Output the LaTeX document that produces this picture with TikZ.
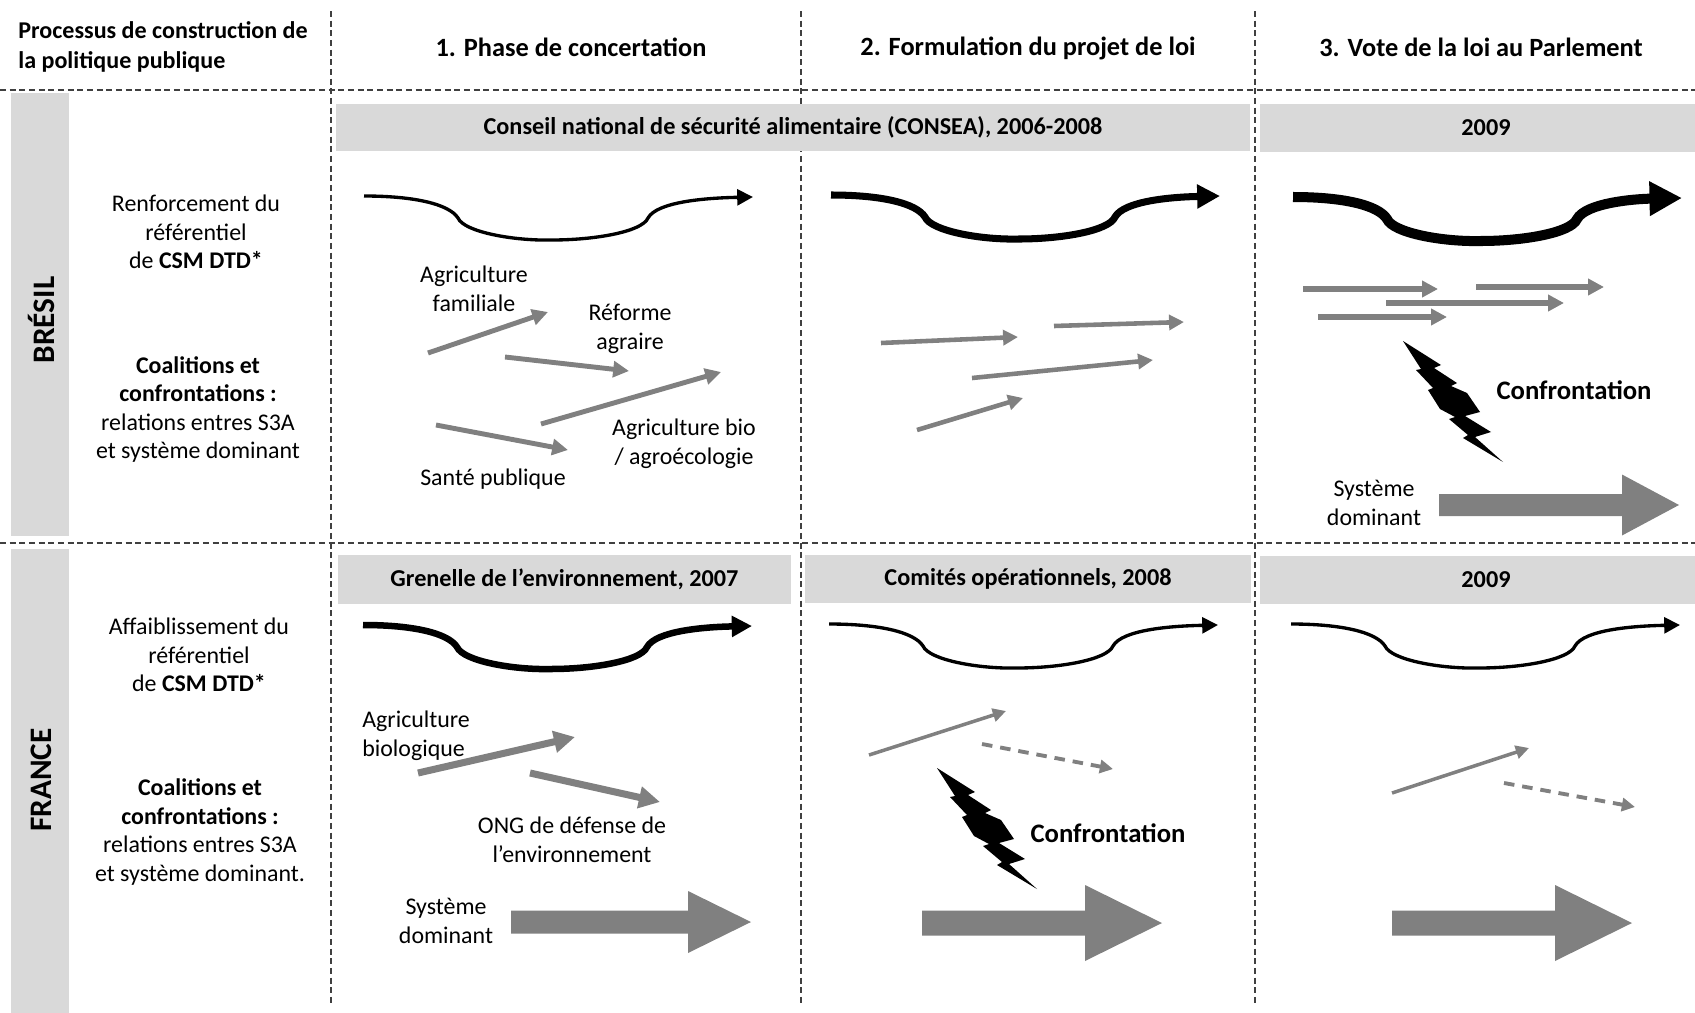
\documentclass[tikz,border=0pt]{standalone}
\usepackage{fontspec}
\setmainfont{Carlito}
\usetikzlibrary{arrows.meta}

\begin{document}
\begin{tikzpicture}
	 [x=0.2mm,y=-0.2mm,every node/.style={inner sep=0pt,align=center,font=\fontsize{13.6}{16.3}\selectfont},
	  phase/.style={font=\fontsize{15}{18}\selectfont\bfseries},
	  bar/.style={fill=black!15,font=\fontsize{13.8}{16}\selectfont\bfseries},
	  country/.style={rotate=90,font=\fontsize{17.8}{20}\selectfont\bfseries},
	  clash/.style={font=\fontsize{15.2}{18}\selectfont\bfseries},
	  grid/.style={black!75,line width=0.7pt,dash pattern=on 3.5pt off 2pt},
	  flow/.style 2 args={gray,line width=#1,-{Triangle[length=#2,width=#2]}},
	  wave/.style 2 args={line width=#1,-{Triangle[length=#2,width=#2]}}]
	\useasboundingbox (0,0) rectangle (1695,1013);

	\fill[black!15] (11,93) rectangle (69,536);
	\fill[black!15] (11,549) rectangle (69,1013);
	\foreach \y in {90,543}
    \draw[grid] (0,\y) -- (1695,\y);
	\foreach \x in {331,801,1255}
    \draw[grid] (\x,11) -- (\x,1003);

	\node (proc)[anchor=west,align=left,font=\fontsize{13.7}{16.8}\selectfont\bfseries] at (18,47) {Processus de construction de\\la politique publique};
	\node (ph1)[phase] at (571,47) {1. Phase de concertation};
	\node (ph2)[phase] at (1028,48) {2. Formulation du projet de loi};
	\node (ph3)[phase] at (1481,47) {3. Vote de la loi au Parlement};

	\node (br)[country] at (41,320) {BRÉSIL};
	\node (fr)[country] at (41,780) {FRANCE};

	\node (consea)[bar,minimum width=182.8mm,minimum height=9.4mm] at (793,127) {Conseil national de sécurité alimentaire (CONSEA), 2006-2008};
	\node (vbr)[bar,minimum width=90.4mm,minimum height=9.6mm] at (1486,128) {2009};
	\node (gren)[bar,minimum width=90.6mm,minimum height=9.8mm] at (564.5,579.5) {Grenelle de l’environnement, 2007};
	\node (comop)[bar,minimum width=89.2mm,minimum height=9.6mm] at (1028,579) {Comités opérationnels, 2008};
	\node (vfr)[bar,minimum width=90.4mm,minimum height=9.6mm] at (1486,579.5) {2009};

	\node (refbr) at (196,232) {Renforcement du\\référentiel\\de \textbf{CSM DTD*}};
	\node (coalbr) at (198,409.5) {\textbf{Coalitions et}\\\textbf{confrontations :}\\relations entres S3A\\et système dominant};
	\node (reffr) at (199,655) {Affaiblissement du\\référentiel\\de \textbf{CSM DTD*}};
	\node (coalfr) at (200,832) {\textbf{Coalitions et}\\\textbf{confrontations :}\\relations entres S3A\\et système dominant.};

	\foreach \x/\y/\lw/\hd in {364/196/1.9/9,831/195/4/13,1293/197/5.7/18.5,363/625/3.7/11.5,829/624/1.9/9,1291/624/1.9/9}
    \draw[wave={\lw pt}{\hd pt},shift={(\x,\y)}] (0,0) .. controls (50,0) and (85,8) .. (94,22) .. controls (100,36) and (150,45) .. (188,44) .. controls (230,44) and (278,36) .. (284,22) .. controls (293,6) and (340,2) .. (389,1);

	\foreach \xa/\ya/\xb/\yb in {428/353/548/312,505/357/629/371,541/424/721/372,436/425/568/450}
    \draw[flow={2.8pt}{9pt}] (\xa,\ya) -- (\xb,\yb);
	\foreach \xa/\ya/\xb/\yb in {881/343/1018/337,1054/326/1184/322,972/378/1153/360,917/430/1023/398}
    \draw[flow={2.6pt}{8.5pt}] (\xa,\ya) -- (\xb,\yb);
	\foreach \xa/\ya/\xb/\yb in {1303/289/1438/289,1476/287/1604/287,1386/303/1564/303,1318/317/1447/317}
    \draw[flow={3pt}{9pt}] (\xa,\ya) -- (\xb,\yb);
	\foreach \xa/\ya/\xb/\yb in {418/773/575/737,530/773/660/802}
    \draw[flow={4pt}{12pt}] (\xa,\ya) -- (\xb,\yb);
	\foreach \xa/\ya/\xb/\yb in {869/755/1006/711,1392/793/1529/748}
    \draw[flow={2pt}{7.5pt}] (\xa,\ya) -- (\xb,\yb);
	\foreach \xa/\ya/\xb/\yb in {982/744/1113/769,1504/783/1635/807}
    \draw[flow={2.2pt}{7.5pt},dash pattern=on 6pt off 4.5pt] (\xa,\ya) -- (\xb,\yb);

	\foreach \x/\y in {1403/341,937/768}
    \fill[shift={(\x,\y)}] (0,0) -- (38,24) -- (31,27) -- (54,42) -- (48,45) -- (64,52) -- (77,71) -- (62,75) -- (88,91) -- (72,96) -- (100,121) -- (60,97) -- (65,94) -- (46,78) -- (52,76) -- (37,68) -- (25,49) -- (30,47) -- (13,29) -- (18,28) -- cycle;

	\foreach \xa/\xb/\xc/\yc/\bh/\hh in {1439/1622/1679/505/11/30.5,511/688/751/922/11.5/31,922/1085/1162/923/12.5/38,1392/1555/1632/923/12.5/38}
    \fill[gray] (\xa,\yc-\bh) -- (\xb,\yc-\bh) -- (\xb,\yc-\hh) -- (\xc,\yc) -- (\xb,\yc+\hh) -- (\xb,\yc+\bh) -- (\xa,\yc+\bh) -- cycle;

	\node (agfam) at (474,289) {Agriculture\\familiale};
	\node (refagr) at (630,329) {Réforme\\agraire};
	\node (agbio) at (684,444) {Agriculture bio\\/ agroécologie};
	\node (sante) at (493,479) {Santé publique};
	\node (clbr)[clash] at (1574,390) {Confrontation};
	\node (sdbr) at (1374,503) {Système\\dominant};

	\node (abio)[anchor=west,align=left] at (362,736) {Agriculture\\biologique};
	\node (ong) at (572,840) {ONG de défense de\\l’environnement};
	\node (sdfr) at (446,921) {Système\\dominant};
	\node (clfr)[clash] at (1108,833) {Confrontation};

\end{tikzpicture}
\end{document}
